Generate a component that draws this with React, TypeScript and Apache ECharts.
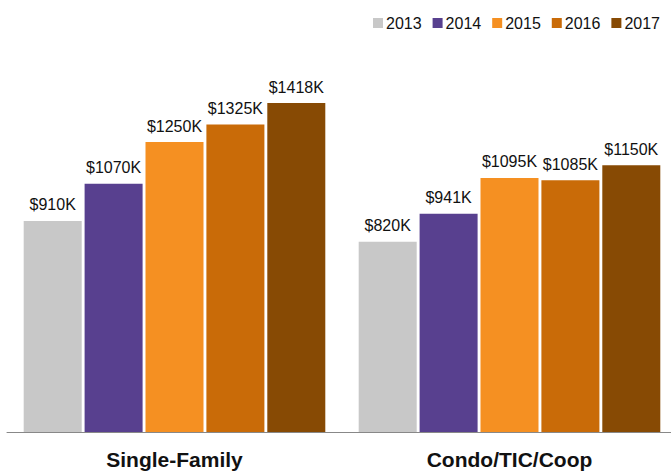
import React, { useEffect, useRef } from "react";
import * as echarts from "echarts";

const categories = ["Single-Family", "Condo/TIC/Coop"];
const years = ["2013", "2014", "2015", "2016", "2017"];
const values2013 = [910, 820];
const values2014 = [1070, 941];
const values2015 = [1250, 1095];
const values2016 = [1325, 1085];
const values2017 = [1418, 1150];
const colors = ["#c8c8c8", "#58408f", "#f59022", "#c96b08", "#874a04"];

const FONT = "'Liberation Sans', Arial, Helvetica, sans-serif";

export default function App() {
  const ref = useRef<HTMLDivElement>(null);
  useEffect(() => {
    if (!ref.current) return;
    const chart = echarts.init(ref.current, undefined, { renderer: "svg" });
    const seriesData = [values2013, values2014, values2015, values2016, values2017];
    chart.setOption({
      animation: false,
      textStyle: { fontFamily: FONT },
      legend: {
        data: years,
        top: 10,
        left: 368,
        itemWidth: 10,
        itemHeight: 10,
        itemGap: 11,
        icon: "rect",
        textStyle: { fontSize: 16, color: "#111", fontFamily: FONT, padding: [0, 0, 0, -2] },
      },
      grid: { left: 7, width: 670, top: 14.4, bottom: 39, containLabel: false },
      xAxis: {
        type: "category",
        data: categories,
        axisLine: { show: true, lineStyle: { color: "#888", width: 1 } },
        axisTick: { show: false },
        axisLabel: { fontSize: 21, fontWeight: "bold", color: "#111", margin: 17, fontFamily: FONT },
      },
      yAxis: {
        type: "value",
        min: 0,
        max: 1800,
        show: false,
        splitLine: { show: false },
      },
      series: years.map((y, i) => ({
        name: y,
        type: "bar",
        data: seriesData[i],
        barWidth: 58,
        barGap: "5%",
        itemStyle: { color: colors[i] },
        label: {
          show: true,
          position: "top",
          distance: 8,
          fontSize: 16,
          color: "#111",
          fontFamily: FONT,
          formatter: (p: any) => "$" + p.value + "K",
        },
      })),
    });
    return () => chart.dispose();
  }, []);
  return (
    <div style={{ width: 671, height: 471, position: "absolute", left: 0, top: 0, overflow: "hidden" }}>
      <div ref={ref} style={{ width: 680, height: 471 }} />
    </div>
  );
}
